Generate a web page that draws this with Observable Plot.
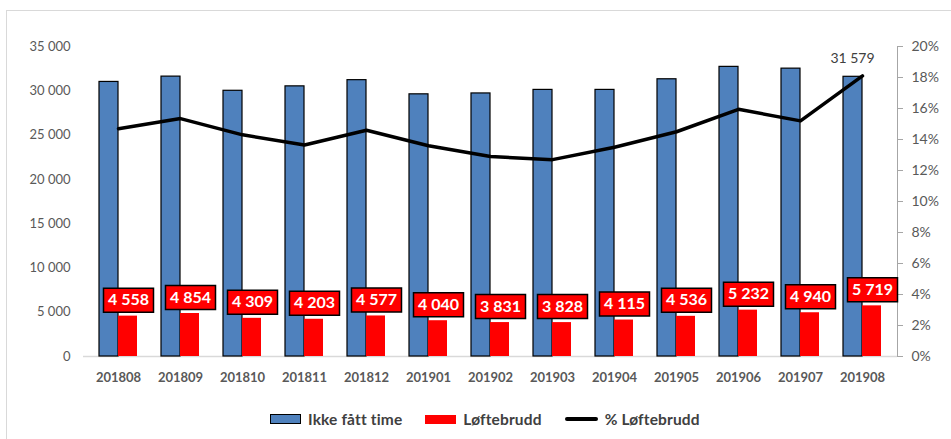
<!DOCTYPE html>
<html>
<head>
<meta charset="utf-8">
<script src="https://cdn.jsdelivr.net/npm/d3@7"></script>
<script src="https://cdn.jsdelivr.net/npm/@observablehq/plot@0.6"></script>
<style>
  html, body { margin: 0; padding: 0; background: #fff; }
  body { width: 951px; height: 439px; position: relative; overflow: hidden; font-family: Lato, "Open Sans", sans-serif; }
  #frame { position: absolute; left: 6px; top: 10px; right: 0; bottom: 0; border-top: 1px solid #d9d9d9; border-left: 1px solid #d9d9d9; pointer-events: none; }
  #chart { position: absolute; left: 0; top: 0; }
  #legend { position: absolute; left: 270px; top: 410px; display: flex; align-items: center; font-weight: bold; font-size: 15.5px; letter-spacing: 0.15px; color: #404040; }
  #legend .item { display: flex; align-items: center; }
  #legend .sw { width: 31px; height: 8px; margin-right: 7px; }
  #legend .gap { width: 23px; }
</style>
</head>
<body>
<div id="frame"></div>
<div id="chart"></div>
<div id="legend"></div>
<script>
// Monthly figures: patients without an appointment, broken promises, and broken-promise share
const months = ["201808", "201809", "201810", "201811", "201812", "201901", "201902",
                "201903", "201904", "201905", "201906", "201907", "201908"];
const ikkeFattTime = [31000, 31600, 30000, 30500, 31200, 29600, 29700, 30100, 30100, 31300, 32700, 32500, 31579];
const loftebrudd = [4558, 4854, 4309, 4203, 4577, 4040, 3831, 3828, 4115, 4536, 5232, 4940, 5719];
const pctLoftebrudd = [14.7, 15.35, 14.3, 13.65, 14.6, 13.6, 12.9, 12.7, 13.5, 14.5, 15.95, 15.2, 18.1];
const leftTicks = [0, 5000, 10000, 15000, 20000, 25000, 30000, 35000];
const rightTicks = [0, 2, 4, 6, 8, 10, 12, 14, 16, 18, 20];

const seriesNames = ["Ikke fått time", "Løftebrudd", "% Løftebrudd"];
const colors = ["#4f81bd", "#ff0000", "#000000"];

// The percentage axis (0–20 %) shares the count axis (0–35 000)
const leftMax = 35000, rightMax = 20;
const pctToY = p => p * leftMax / rightMax;

const rows = months.map((m, i) => ({
  month: m,
  ikke: ikkeFattTime[i],
  loft: loftebrudd[i],
  pct: pctLoftebrudd[i]
}));

const locale = d3.formatLocale({decimal: ",", thousands: " ", grouping: [3], currency: ["", ""]});
const fmt = locale.format(",d");

// Rectangle symbol for the boxed value labels
const boxSymbol = {
  draw(ctx) {
    ctx.moveTo(-25, -12); ctx.lineTo(25, -12); ctx.lineTo(25, 12); ctx.lineTo(-25, 12); ctx.closePath();
  }
};

const half = 19; // half of the band: blue bar left, red bar right

const plot = Plot.plot({
  width: 951,
  height: 400,
  marginLeft: 83,
  marginRight: 54,
  marginTop: 46,
  marginBottom: 44,
  style: {fontFamily: "Lato, 'Open Sans', sans-serif", fontSize: "13px", color: "#595959", background: "transparent"},
  x: {type: "band", domain: months, paddingInner: 0.39, paddingOuter: 0.195, axis: null, label: null},
  y: {domain: [0, leftMax], axis: null, label: null},
  marks: [
    Plot.ruleY([0], {stroke: "#d9d9d9", strokeWidth: 1.5}),
    Plot.axisY({anchor: "left", ticks: leftTicks, tickSize: 0, tickPadding: 13, tickFormat: fmt, fill: "#595959", fontSize: 13, label: null}),
    Plot.axisY({anchor: "right", ticks: rightTicks.map(pctToY), tickSize: 5, tickPadding: 9,
      tickFormat: d => Math.round(d * rightMax / leftMax) + "%", stroke: "#a6a6a6", fill: "#595959", fontSize: 14, label: null}),
    Plot.frame({anchor: "right", stroke: "#a6a6a6"}),
    Plot.axisX({anchor: "bottom", tickSize: 0, tickPadding: 16, fontWeight: "bold", fill: "#595959", fontSize: 13, label: null}),
    Plot.barY(rows, {x: "month", y: "ikke", fill: colors[0], stroke: "#000", strokeWidth: 1.2, insetRight: half}),
    Plot.barY(rows, {x: "month", y: "loft", fill: colors[1], insetLeft: half}),
    Plot.line(rows, {x: "month", y: d => pctToY(d.pct), stroke: colors[2], strokeWidth: 3.5, curve: "linear"}),
    Plot.dot(rows, {x: "month", y: "loft", symbol: boxSymbol, fill: "#ff0000", stroke: "#000", strokeWidth: 1.5, dx: 10, dy: -16}),
    Plot.text(rows, {x: "month", y: "loft", text: d => fmt(d.loft), fill: "#fff", fontWeight: "bold", fontSize: 16, dx: 10, dy: -16}),
    Plot.text(rows.slice(-1), {x: "month", y: d => pctToY(d.pct), text: d => fmt(d.ikke), fill: "#404040", fontSize: 14, dx: -10, dy: -17})
  ]
});
document.getElementById("chart").append(plot);

// Legend below the chart
const legend = document.getElementById("legend");
seriesNames.forEach((name, i) => {
  if (i > 0) { const g = document.createElement("span"); g.className = "gap"; legend.append(g); }
  const item = document.createElement("span");
  item.className = "item";
  const sw = document.createElement("span");
  sw.className = "sw";
  if (i === 0) { sw.style.background = colors[0]; sw.style.border = "1px solid #000"; sw.style.boxSizing = "border-box"; sw.style.height = "10px"; }
  else if (i === 1) { sw.style.background = colors[1]; sw.style.height = "9px"; }
  else { sw.style.background = colors[2]; sw.style.height = "4px"; sw.style.borderRadius = "2px"; sw.style.width = "33px"; }
  const label = document.createElement("span");
  label.textContent = name;
  item.append(sw, label);
  legend.append(item);
});
</script>
</body>
</html>
